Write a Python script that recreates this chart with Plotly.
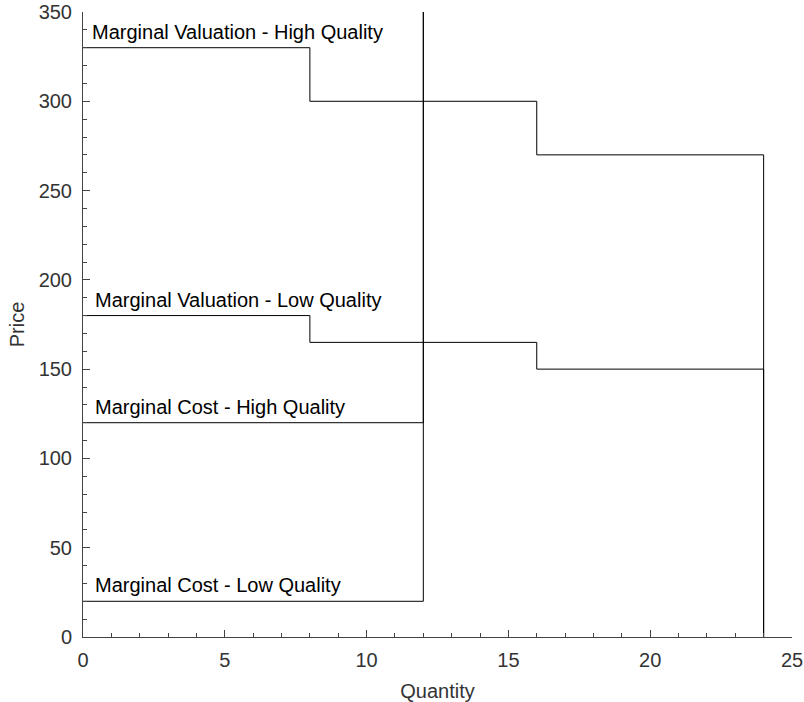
import plotly.graph_objects as go

# Data
step_quantity = [0, 8, 16, 24]
mv_high_quality = [330, 300, 270]
mv_low_quality = [180, 165, 150]
mc_high_quality = 120
mc_low_quality = 20
capacity = 12
price_max = 350
quantity_max = 25

labels = [
    "Marginal Valuation - High Quality",
    "Marginal Valuation - Low Quality",
    "Marginal Cost - High Quality",
    "Marginal Cost - Low Quality",
]

FONT = "Liberation Sans, Arial, sans-serif"
line_style = dict(color="black", width=1)

fig = go.Figure()

for vals in (mv_high_quality, mv_low_quality):
    xs = step_quantity + [step_quantity[-1]]
    ys = vals + [vals[-1], 0]
    fig.add_trace(go.Scatter(x=xs, y=ys, mode="lines", line=dict(shape="hv", **line_style),
                             showlegend=False, hoverinfo="skip", cliponaxis=False))

for c in (mc_high_quality, mc_low_quality):
    fig.add_trace(go.Scatter(x=[0, capacity, capacity], y=[c, c, price_max], mode="lines",
                             line=line_style, showlegend=False, hoverinfo="skip", cliponaxis=False))

label_y = [mv_high_quality[0], mv_low_quality[0], mc_high_quality, mc_low_quality]
label_xshift = [7, 10, 10, 10]
for txt, yv, xs in zip(labels, label_y, label_xshift):
    fig.add_annotation(x=0, y=yv, text=txt, showarrow=False, xanchor="left", yanchor="bottom",
                       xshift=xs, yshift=3, font=dict(family=FONT, size=20, color="black"))

axis_common = dict(showline=True, linecolor="#444", linewidth=1, ticks="inside", ticklen=7,
                   tickcolor="#444", showgrid=False, zeroline=False, mirror=False,
                   automargin=False,
                   tickfont=dict(family=FONT, size=20, color="#333"))

fig.update_xaxes(range=[0, quantity_max], dtick=5, tick0=0,
                 minor=dict(ticks="inside", ticklen=4, dtick=1, tickcolor="#444", showgrid=False),
                 title=dict(text="Quantity", standoff=14, font=dict(family=FONT, size=20, color="#333")),
                 ticklabelstandoff=5,
                 **axis_common)
fig.update_yaxes(range=[0, price_max], dtick=50, tick0=0,
                 minor=dict(ticks="inside", ticklen=4, dtick=10, tickcolor="#444", showgrid=False),
                 title=dict(text="Price", standoff=8, font=dict(family=FONT, size=20, color="#333")),
                 ticklabelstandoff=6,
                 **axis_common)

fig.update_layout(width=804, height=702, margin=dict(l=83, r=12, t=12, b=65, autoexpand=False),
                  plot_bgcolor="white", paper_bgcolor="white", font=dict(family=FONT))

fig.write_html("out.html")
